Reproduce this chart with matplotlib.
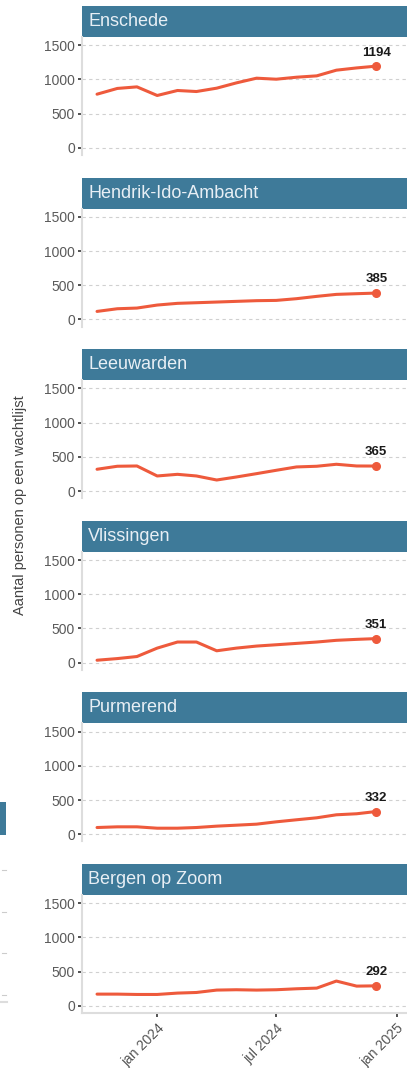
import pandas as pd
import numpy as np
import matplotlib
matplotlib.use('Agg')
import matplotlib.pyplot as plt
from matplotlib.patches import Rectangle
plt.rcParams['font.family'] = ['Liberation Sans', 'DejaVu Sans']

# monthly figures, okt 2023 .. dec 2024
maanden = pd.date_range('2023-10-01', periods=15, freq='MS')
gemeenten = ['Enschede', 'Hendrik-Ido-Ambacht', 'Leeuwarden', 'Vlissingen', 'Purmerend', 'Bergen op Zoom']
enschede = [784, 868, 891, 765, 838, 823, 872, 949, 1018, 1003, 1032, 1052, 1135, 1168, 1194]
hendrik_ido_ambacht = [117, 156, 166, 210, 235, 244, 254, 264, 274, 278, 303, 337, 366, 376, 385]
leeuwarden = [318, 362, 366, 220, 244, 220, 161, 205, 254, 303, 352, 362, 391, 366, 365]
vlissingen = [35, 59, 89, 212, 301, 301, 173, 212, 242, 261, 281, 301, 326, 340, 351]
purmerend = [98, 108, 108, 88, 88, 98, 118, 132, 147, 181, 211, 240, 284, 299, 332]
bergen_op_zoom = [171, 171, 166, 166, 186, 195, 230, 235, 230, 235, 249, 259, 362, 288, 292]
reeksen = [enschede, hendrik_ido_ambacht, leeuwarden, vlissingen, purmerend, bergen_op_zoom]
y_ticks = [0, 500, 1000, 1500]
x_ticks = pd.to_datetime(['2024-01-01', '2024-07-01', '2025-01-01'])
x_labels = ['jan 2024', 'jul 2024', 'jan 2025']

W, H = 407, 1068
fig = plt.figure(figsize=(W / 100, H / 100), dpi=100)
strip_kleur = '#3e7a99'
lijn_kleur = '#ee5a3c'

def fx(px):
    return px / W

def fy(py):
    return 1 - py / H

links = 82
for i, (naam, waarden) in enumerate(zip(gemeenten, reeksen)):
    top = 6 + 171.6 * i
    # strip
    sax = fig.add_axes([fx(links), fy(top + 31), 1 - fx(links), 31 / H])
    sax.set_facecolor(strip_kleur)
    sax.set_xticks([]); sax.set_yticks([])
    for s in sax.spines.values():
        s.set_visible(False)
    sax.text(6 / (W - links), 0.5, naam, transform=sax.transAxes, color='#e8eff5',
             fontsize=13, va='center', ha='left')
    # panel
    ax = fig.add_axes([fx(links), fy(top + 149), 1 - fx(links), 118 / H])
    ax.plot(maanden, waarden, color=lijn_kleur, lw=2.2, solid_capstyle='round')
    ax.plot(maanden[-1], waarden[-1], 'o', color=lijn_kleur, ms=5.5)
    ax.annotate(str(waarden[-1]), (maanden[-1], waarden[-1]), xytext=(0, 5.5),
                textcoords='offset points', ha='center', va='bottom',
                fontsize=9.5, fontweight='bold', color='#1a1a1a')
    ax.set_ylim(-105, 1620)
    ax.set_xlim(pd.Timestamp('2023-09-08'), pd.Timestamp('2025-01-17'))
    ax.set_yticks(y_ticks)
    ax.tick_params(axis='y', length=3, width=1.2, color='#333333', labelsize=10,
                   labelcolor='#5a5a5a', pad=2)
    ax.grid(axis='y', color='#d0d0d0', lw=0.8, ls=(0, (3, 3)))
    ax.set_axisbelow(True)
    for k in ['top', 'right']:
        ax.spines[k].set_visible(False)
    ax.spines['left'].set_color('#dddddd')
    ax.spines['left'].set_linewidth(1.5)
    ax.set_xticks(x_ticks)
    if i == len(gemeenten) - 1:
        ax.set_xticklabels(x_labels, rotation=45, ha='right', rotation_mode='anchor',
                           fontsize=10, color='#555555')
        ax.tick_params(axis='x', length=3, width=1.2, color='#333333', pad=3)
        ax.spines['bottom'].set_color('#dddddd')
        ax.spines['bottom'].set_linewidth(1.5)
    else:
        ax.tick_params(axis='x', length=0, labelbottom=False)
        ax.spines['bottom'].set_visible(False)

fig.text(fx(20), fy(505), 'Aantal personen op een wachtlijst', rotation=90,
         ha='center', va='center', fontsize=10.5, color='#444444')

# rand van de naastgelegen kolom
fig.patches.append(Rectangle((0, fy(835)), fx(6), (835 - 802) / H, transform=fig.transFigure,
                             facecolor=strip_kleur, edgecolor='none'))
for py in [870, 912, 953, 995]:
    fig.lines.append(plt.Line2D([fx(2), fx(6)], [fy(py), fy(py)], transform=fig.transFigure,
                                color='#cccccc', lw=0.8))
fig.lines.append(plt.Line2D([0, fx(7)], [fy(1002), fy(1002)], transform=fig.transFigure,
                            color='#dddddd', lw=1.5))

fig.savefig('out.png', dpi=100, facecolor='white')
